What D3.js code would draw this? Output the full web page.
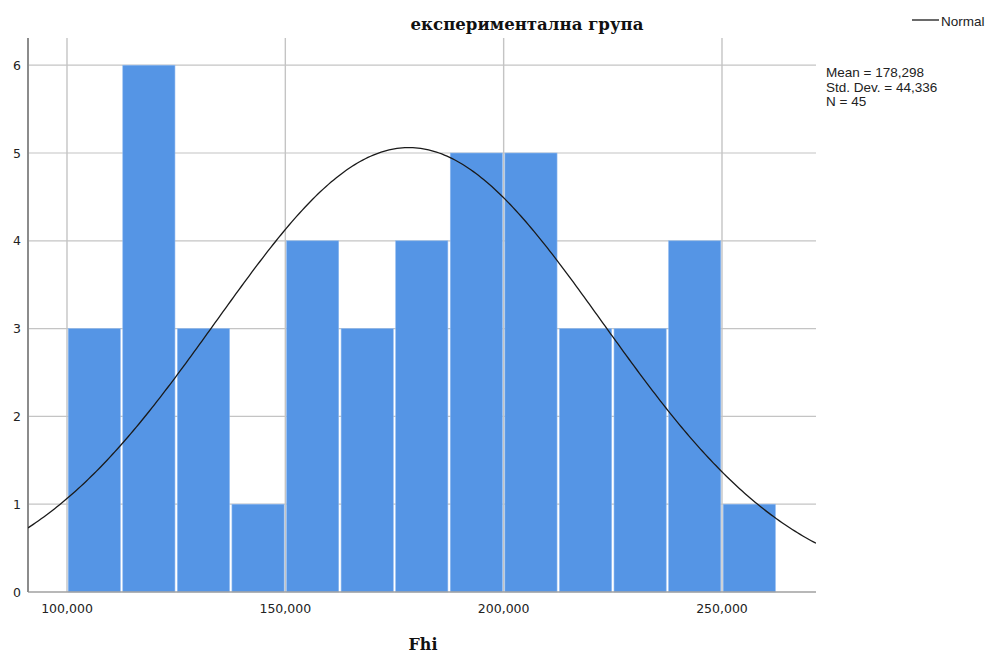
<!DOCTYPE html>
<html>
<head>
<meta charset="utf-8">
<script src="https://cdn.jsdelivr.net/npm/d3@7"></script>
<style>
  html, body { margin: 0; padding: 0; background: #fff; }
  svg { display: block; }
</style>
</head>
<body>
<svg id="chart" width="988" height="653"></svg>
<script>
// Histogram of Fhi for the experimental group, with fitted normal curve
const binStarts = [100000, 112500, 125000, 137500, 150000, 162500, 175000, 187500, 200000, 212500, 225000, 237500, 250000];
const binWidth = 12500;
const counts = [3, 6, 3, 1, 4, 3, 4, 5, 5, 3, 3, 4, 1];
const xTicks = [100000, 150000, 200000, 250000];
const yTicks = [0, 1, 2, 3, 4, 5, 6];
const stats = { mean: 178298, sd: 44336, n: 45 };
const statLines = ["Mean = 178,298", "Std. Dev. = 44,336", "N = 45"];
const titleText = "експериментална група";
const xLabel = "Fhi";

const svg = d3.select("#chart");
const plot = { left: 28, right: 816, top: 38, bottom: 592 };

const x = d3.scaleLinear().domain([91070, 271530]).range([plot.left, plot.right]);
const y = d3.scaleLinear().domain([0, 6.31]).range([plot.bottom, plot.top]);

const fmt = d => d3.format(",")(d);

// clip region for the curve
svg.append("defs").append("clipPath").attr("id", "plotClip")
  .append("rect")
  .attr("x", plot.left).attr("y", plot.top)
  .attr("width", plot.right - plot.left).attr("height", plot.bottom - plot.top);

// gridlines
const grid = svg.append("g");
grid.selectAll("line.h").data(yTicks.filter(d => d > 0)).join("line")
  .attr("x1", plot.left).attr("x2", plot.right)
  .attr("y1", d => y(d)).attr("y2", d => y(d))
  .attr("stroke", "#c4c4c4").attr("stroke-width", 1.2);
grid.selectAll("line.v").data(xTicks).join("line")
  .attr("x1", d => x(d)).attr("x2", d => x(d))
  .attr("y1", plot.top).attr("y2", plot.bottom)
  .attr("stroke", "#c4c4c4").attr("stroke-width", 1.4);

// bars
svg.append("g").selectAll("rect").data(counts).join("rect")
  .attr("x", (d, i) => x(binStarts[i]) + 1.2)
  .attr("width", (d, i) => x(binStarts[i] + binWidth) - x(binStarts[i]) - 2.4)
  .attr("y", d => y(d))
  .attr("height", d => y(0) - y(d))
  .attr("fill", "#5595e5")
  .attr("stroke", "#8fbaf0")
  .attr("stroke-width", 0.6);

// axes lines
svg.append("line")
  .attr("x1", plot.left).attr("x2", plot.right)
  .attr("y1", plot.bottom).attr("y2", plot.bottom)
  .attr("stroke", "#a0a0a0").attr("stroke-width", 1.6);
svg.append("line")
  .attr("x1", plot.left).attr("x2", plot.left)
  .attr("y1", plot.top).attr("y2", plot.bottom)
  .attr("stroke", "#8c8c8c").attr("stroke-width", 2);

// normal curve
const scaleFactor = stats.n * binWidth / (stats.sd * Math.sqrt(2 * Math.PI));
const pdf = v => scaleFactor * Math.exp(-0.5 * Math.pow((v - stats.mean) / stats.sd, 2));
const xs = d3.range(300).map(i => x.domain()[0] + (x.domain()[1] - x.domain()[0]) * i / 299);
svg.append("path")
  .attr("clip-path", "url(#plotClip)")
  .attr("d", d3.line().x(v => x(v)).y(v => y(pdf(v)))(xs))
  .attr("fill", "none")
  .attr("stroke", "#1a1a1a")
  .attr("stroke-width", 1.3);

// tick labels
svg.append("g").selectAll("text").data(yTicks).join("text")
  .attr("x", 21).attr("y", d => y(d))
  .attr("dy", "0.36em")
  .attr("text-anchor", "end")
  .attr("font-family", "DejaVu Sans, sans-serif")
  .attr("font-size", 12.5)
  .attr("fill", "#222")
  .text(d => d);
svg.append("g").selectAll("text").data(xTicks).join("text")
  .attr("x", d => x(d)).attr("y", 613)
  .attr("text-anchor", "middle")
  .attr("font-family", "DejaVu Sans, sans-serif")
  .attr("font-size", 12.5)
  .attr("fill", "#222")
  .text(fmt);

// fit a text's font size so it spans the given width
function fitWidth(sel, width) {
  const w = sel.node().getBBox().width;
  const fs = parseFloat(sel.attr("font-size"));
  sel.attr("font-size", fs * width / w);
}

// title
const title = svg.append("text")
  .attr("x", 527).attr("y", 30)
  .attr("text-anchor", "middle")
  .attr("font-family", "DejaVu Serif, serif")
  .attr("font-weight", "bold")
  .attr("font-size", 17)
  .attr("fill", "#111")
  .text(titleText);
fitWidth(title, 233);

// x axis title
const xt = svg.append("text")
  .attr("x", 423).attr("y", 649.5)
  .attr("text-anchor", "middle")
  .attr("font-family", "DejaVu Serif, serif")
  .attr("font-weight", "bold")
  .attr("font-size", 18)
  .attr("fill", "#111")
  .text(xLabel);
fitWidth(xt, 29);

// legend
svg.append("line")
  .attr("x1", 912).attr("x2", 939).attr("y1", 20).attr("y2", 20)
  .attr("stroke", "#1a1a1a").attr("stroke-width", 1.3);
svg.append("text")
  .attr("x", 941).attr("y", 25.5)
  .attr("font-family", "Liberation Sans, Arial, sans-serif")
  .attr("font-size", 13.5)
  .attr("fill", "#222")
  .text("Normal");

// summary statistics
svg.append("g").selectAll("text").data(statLines).join("text")
  .attr("x", 826).attr("y", (d, i) => 77 + i * 14.7)
  .attr("font-family", "Liberation Sans, Arial, sans-serif")
  .attr("font-size", 13.5)
  .attr("fill", "#222")
  .text(d => d);
</script>
</body>
</html>
